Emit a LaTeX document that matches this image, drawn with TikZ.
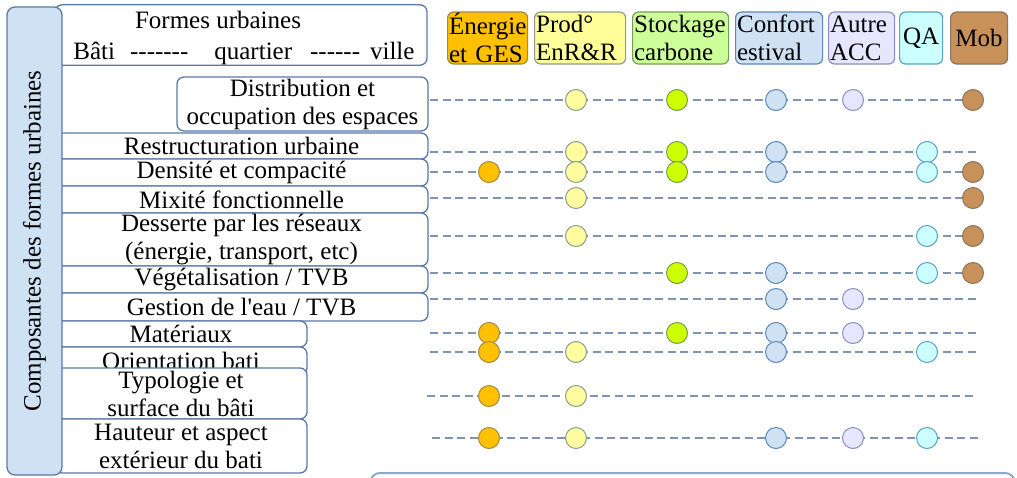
\documentclass[tikz,border=0pt]{standalone}
\usepackage{fontspec}
\setmainfont{Liberation Serif}
\usetikzlibrary{positioning}
\definecolor{cadre}{HTML}{5B78A8}
\definecolor{tiret}{HTML}{7F93B3}
\definecolor{panfond}{HTML}{CFE2F3}
\definecolor{bas}{HTML}{8EA8CC}
% fonds des en-tetes
\definecolor{hE}{HTML}{FFC000}
\definecolor{hP}{HTML}{FFFF99}
\definecolor{hS}{HTML}{CCFF99}
\definecolor{hC}{HTML}{CFE2F3}
\definecolor{hA}{HTML}{E6E6FF}
\definecolor{hQ}{HTML}{CCFFFF}
\definecolor{hM}{HTML}{C8915A}
% pastilles
\definecolor{cE}{HTML}{FFC000}
\definecolor{cP}{HTML}{FFFCA0}
\definecolor{cS}{HTML}{CCFF00}
\definecolor{cC}{HTML}{CFE2F3}
\definecolor{cA}{HTML}{E6E6FF}
\definecolor{cQ}{HTML}{CCFFFF}
\definecolor{cM}{HTML}{C8915A}
% bords
\definecolor{bE}{HTML}{A08A45}
\definecolor{bP}{HTML}{8A9C8C}
\definecolor{bS}{HTML}{7A9A55}
\definecolor{bC}{HTML}{5A86B8}
\definecolor{bA}{HTML}{8A8EC0}
\definecolor{bQ}{HTML}{5AA2C4}
\definecolor{bM}{HTML}{8A7560}
\newcommand{\tirets}[1]{\foreach \i in {1,...,#1}{\mbox{-}}}
\begin{document}
\begin{tikzpicture}[x=1pt, y=-1pt, font=\fontsize{25}{28}\selectfont, line join=round,
    boite/.style={draw=cadre, fill=white, line width=1.3pt, rounded corners=7pt, inner sep=0pt, align=center},
    entete/.style={draw=b#1, fill=h#1, line width=1.2pt, rounded corners=6pt, minimum height=52pt, inner xsep=1.5pt, inner ysep=0pt, anchor=west, align=left},
    pastille/.style={circle, draw=b#1, fill=c#1, line width=1pt, minimum size=21pt, inner sep=0pt},
    lien/.style={draw=tiret, line width=1.5pt, dash pattern=on 8pt off 4.5pt}]
    \def\colE{489}\def\colP{576}\def\colS{677}\def\colC{776}\def\colA{853}\def\colQ{927}\def\colM{973}
    \useasboundingbox (0,0) rectangle (1017,477);
    % cadre coupe en bas
    \begin{scope}
        \clip (0,0) rectangle (1017,477);
        \draw[draw=bas, line width=2pt, rounded corners=10pt] (370,473) rectangle (1015,530);
    \end{scope}
    % composantes
    \node[boite, minimum width=372pt, minimum height=56pt] (formes) at (241,35) {\rule{0pt}{24pt}Formes urbaines\hspace*{46pt}\\[3pt]\hspace*{6pt}Bâti\hspace{15pt}\tirets{7}\hspace{26pt}quartier\hspace{18pt}\tirets{6}\hspace{10pt}ville};
    \node[boite, minimum width=251pt, minimum height=54pt] (distr) at (302.5,104) {Distribution et\\occupation des espaces};
    \node[boite, minimum width=373pt, minimum height=26pt] (restr) at (241.5,146) {Restructuration urbaine};
    \node[boite, minimum width=373pt, minimum height=27pt] (dens) at (241.5,172.5) {Densité et compacité};
    \node[boite, minimum width=373pt, minimum height=27pt] (mixi) at (241.5,199.5) {Mixité fonctionnelle};
    \node[boite, minimum width=373pt, minimum height=53pt] (dess) at (241.5,239.5) {Desserte par les réseaux\\(énergie, transport, etc)};
    \node[boite, minimum width=373pt, minimum height=27pt] (vege) at (241.5,279.5) {Végétalisation / TVB};
    \node[boite, minimum width=373pt, minimum height=28pt] (eau) at (241.5,307) {Gestion de l\textquotesingle eau / TVB};
    \node[boite, minimum width=252pt, minimum height=26pt] (mat) at (181,334) {Matériaux};
    \node[boite, minimum width=252pt, minimum height=28pt] (orient) at (181,361) {Orientation bati};
    \node[boite, minimum width=252pt, minimum height=51pt] (typo) at (181,393.5) {Typologie et\\surface du bâti};
    \node[boite, minimum width=252pt, minimum height=54pt] (haut) at (181,446) {Hauteur et aspect\\extérieur du bati};
    \node[draw=cadre, fill=panfond, line width=1.3pt, rounded corners=8pt, rotate=90, minimum width=468pt, minimum height=55pt, inner sep=0pt] (panneau) at (34.5,241) {Composantes des formes urbaines};
    % enjeux
    \node[entete=E, text width=77pt] (ener) at (447,38) {Énergie\\et GES};
    \node[entete=P, text width=88pt] (prod) at (534,38) {Prod°\\EnR\&R};
    \node[entete=S, text width=93pt] (stock) at (632,38) {Stockage\\carbone};
    \node[entete=C, text width=84pt] (conf) at (735,38) {Confort\\estival};
    \node[entete=A, text width=63pt] (autre) at (828,38) {Autre\\ACC};
    \node[entete=Q, text width=40pt, align=center] (qa) at (899,38) {QA};
    \node[entete=M, text width=54pt, align=center] (mob) at (950,38) {Mob};
    % lignes et pastilles
    \foreach \nom/\y/\xa/\xb/\liste in {distr/100/430/973/{P,S,C,A,M}, restr/152/430/977/{P,S,C,Q},
        dens/172/430/973/{E,P,S,C,Q,M}, mixi/198/430/973/{P,M}, dess/236/430/973/{P,Q,M},
        vege/273/430/973/{S,C,Q,M}, eau/299/430/977/{C,A}, mat/333/430/978/{E,S,C,A},
        orient/352/430/978/{E,P,C,Q}, typo/396/427/975/{E,P}, haut/438/432/979/{E,P,C,A,Q}}{
        \coordinate (\nom-g) at (\xa,\y);
        \coordinate (\nom-d) at (\xb,\y);
        \draw[lien] (\nom-g) -- (\nom-d);
        \foreach \c in \liste
            \node[pastille=\c] (\nom-\c) at (\csname col\c\endcsname,\y) {};
    }
\end{tikzpicture}
\end{document}
